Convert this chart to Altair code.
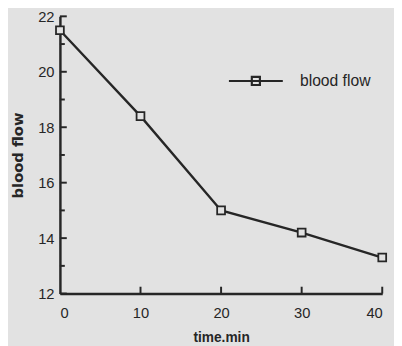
import altair as alt
import pandas as pd

times = [0, 10, 20, 30, 40]
blood_flow = [21.5, 18.4, 15.0, 14.2, 13.3]
series_name = "blood flow"
y_major = [12, 14, 16, 18, 20, 22]
y_minor = [13, 15, 17, 19, 21]
x_ticks = [10, 20, 30, 40]

BG = "#e2e2e2"
INK = "#262626"

df = pd.DataFrame({"time": times, "flow": blood_flow, "series": [series_name] * len(times)})
ymaj = pd.DataFrame({"v": y_major})
ymin = pd.DataFrame({"v": y_minor})
xt = pd.DataFrame({"v": x_ticks})

W, H = 329, 283

xscale = alt.Scale(domain=[0, 40], nice=False, zero=False)
yscale = alt.Scale(domain=[12, 22], nice=False, zero=False)

x_axis = alt.Axis(values=times, title="time.min", ticks=False, labelPadding=12,
                  labelFontSize=15, labelFont="Liberation Sans", labelColor=INK,
                  titleFont="Liberation Sans", titleFontSize=14, titleFontWeight="bold",
                  titlePadding=11, titleColor=INK, grid=False,
                  domainColor=INK, domainWidth=2.5)
y_axis = alt.Axis(values=y_major, title="blood flow", ticks=False, labelPadding=6,
                  labelFontSize=15, labelFont="Liberation Sans", labelColor=INK,
                  titleFont="DejaVu Sans", titleFontSize=15, titleFontWeight="bold",
                  titlePadding=13, titleColor=INK, grid=False,
                  domainColor=INK, domainWidth=2.5)

legend_path = "M-1,0H1M-0.15,-0.15H0.15V0.15H-0.15Z"

line = alt.Chart(df).mark_line(strokeWidth=2.4).encode(
    x=alt.X("time:Q", scale=xscale, axis=x_axis),
    y=alt.Y("flow:Q", scale=yscale, axis=y_axis),
    color=alt.Color("series:N", scale=alt.Scale(range=[INK]),
                    legend=alt.Legend(title=None, orient="none", legendX=171, legendY=37,
                                      symbolType=legend_path, symbolSize=3025,
                                      symbolStrokeWidth=2.2, symbolFillColor=BG,
                                      symbolStrokeColor=INK,
                                      labelFont="Liberation Sans", labelFontSize=16,
                                      labelColor=INK, labelOffset=16, padding=0)),
)

pts = alt.Chart(df).mark_point(shape="square", size=64, filled=True, fill=BG,
                               stroke=INK, strokeWidth=1.8, opacity=1).encode(
    x=alt.X("time:Q", scale=xscale),
    y=alt.Y("flow:Q", scale=yscale),
)

tick_maj = alt.Chart(ymaj).mark_rule(color=INK, strokeWidth=2).encode(
    y=alt.Y("v:Q", scale=yscale), x=alt.value(0), x2=alt.value(7))
tick_min = alt.Chart(ymin).mark_rule(color=INK, strokeWidth=2).encode(
    y=alt.Y("v:Q", scale=yscale), x=alt.value(0), x2=alt.value(5))
tick_x = alt.Chart(xt).mark_rule(color=INK, strokeWidth=2).encode(
    x=alt.X("v:Q", scale=xscale), y=alt.value(H), y2=alt.value(H - 7))

chart = alt.layer(line, tick_maj, tick_min, tick_x, pts).properties(
    width=W, height=H,
    autosize=alt.AutoSizeParams(type="none"),
    padding={"left": 53, "top": 5, "right": 12, "bottom": 50},
    background=BG,
).configure_view(stroke=None)

chart.save("out.html", embed_options={"renderer": "svg", "actions": False})
